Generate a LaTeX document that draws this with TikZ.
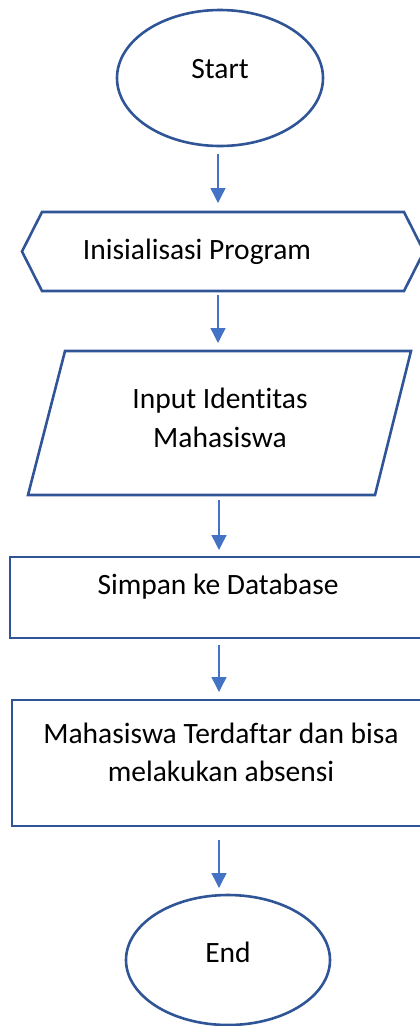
\documentclass[tikz,border=0pt]{standalone}
\usepackage{fontspec}
\setmainfont[Ligatures={NoCommon}]{Carlito}
\usetikzlibrary{shapes.geometric,arrows.meta}
\definecolor{shapeblue}{HTML}{2F5597}
\definecolor{arrowblue}{HTML}{4472C4}
\tikzset{
  shp/.style={draw=shapeblue, line width=2.6pt, line join=miter},
  frame/.style={inner sep=0pt, outer sep=0pt},
  txt/.style={font=\fontsize{29.5}{38.5}\selectfont, text=black, align=center, inner sep=0pt},
  arr/.style={draw=arrowblue, line width=1.4pt, -{Triangle[width=15pt,length=15pt]}}
}
\begin{document}
\begin{tikzpicture}[x=1pt,y=-1pt]
\useasboundingbox (0,0) rectangle (420,1026);
\coordinate (ax) at (218,0);
\coordinate (bx) at (219,0);
% Start
\node[shp, frame, ellipse, minimum width=206pt, minimum height=136pt] (start) at (220,78) {};
\node[txt] (startT) at (220,69) {Start};
% Initialisation hexagon
\node[frame, minimum width=402pt, minimum height=79pt] (init) at (223,251.5) {};
\draw[shp] (init.west) -- ([xshift=20pt]init.north west) -- ([xshift=-20pt]init.north east)
  -- (init.east) -- ([xshift=-20pt]init.south east) -- ([xshift=20pt]init.south west) -- cycle;
\node[txt] (initT) at (197,252) {Inisialisasi Program};
% Input parallelogram
\node[frame, minimum width=383pt, minimum height=144pt] (input) at (219.5,423) {};
\draw[shp] ([xshift=37pt]input.north west) -- (input.north east)
  -- ([xshift=-36pt]input.south east) -- (input.south west) -- cycle;
\node[txt] (inputT) at (220,418) {Input Identitas\\Mahasiswa};
% Simpan
\node[shp, frame, rectangle, minimum width=420pt, minimum height=81pt] (simpan) at (220,597.5) {};
\node[txt] (simpanT) at (218,587) {Simpan ke Database};
% Terdaftar
\node[shp, frame, rectangle, minimum width=420pt, minimum height=126pt] (daftar) at (222,763) {};
\node[txt] (daftarT) at (221,752.5) {Mahasiswa Terdaftar dan bisa\\melakukan absensi};
% End
\node[shp, frame, ellipse, minimum width=204pt, minimum height=130pt] (end) at (228,960) {};
\node[txt] (endT) at (228,952) {End};
% Connectors
\draw[arr, shorten <=8pt, shorten >=9pt] (start.south -| ax) -- (init.north -| ax);
\draw[arr, shorten <=4pt, shorten >=8pt] (init.south -| ax) -- (input.north -| ax);
\draw[arr, shorten <=5pt, shorten >=7pt] (input.south -| bx) -- (simpan.north -| bx);
\draw[arr, shorten <=7pt, shorten >=8pt] (simpan.south -| bx) -- (daftar.north -| bx);
\draw[arr, shorten <=14pt, shorten >=7pt] (daftar.south -| bx) -- (end.north -| bx);
\end{tikzpicture}
\end{document}
